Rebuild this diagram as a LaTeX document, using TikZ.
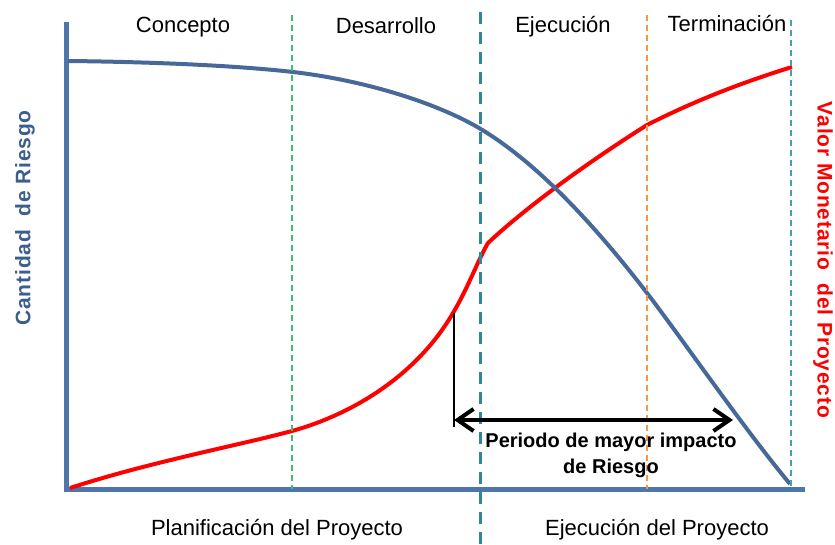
\documentclass[tikz,border=0pt]{standalone}
\usepackage{fontspec}
\setmainfont{Liberation Sans}
\usetikzlibrary{arrows.meta}
\definecolor{axisblue}{HTML}{4F76AA}
\definecolor{riskblue}{HTML}{46699A}
\definecolor{labelblue}{HTML}{3A5E8E}
\definecolor{phasegreen}{HTML}{3CC070}
\definecolor{phaseorange}{HTML}{F79646}
\definecolor{phaseteal}{HTML}{31859C}
\definecolor{endteal}{HTML}{4A9DB3}
\begin{document}
\begin{tikzpicture}[x=1pt,y=-1pt,
  phase/.style={font=\fontsize{22}{26}\selectfont,anchor=base},
  sidelabel/.style={font=\fontsize{21}{26}\selectfont\bfseries\addfontfeature{LetterSpace=4}},
  divider/.style={line width=1.2pt,dash pattern=on 6pt off 4pt},
  barb/.tip={Straight Barb[length=16pt,width=22pt]}]
\useasboundingbox (0,0) rectangle (835,545);

\coordinate (ytop) at (66,22);
\coordinate (orig) at (66,489);
\coordinate (xend) at (805,489);
\draw[axisblue,line width=5pt] (ytop) -- (orig) -- (xend);

\draw[red,line width=4pt] (70,488) .. controls (150,462) and (240,445) .. (292,431)
  .. controls (360,412) and (420,370) .. (453,313)
  .. controls (468,288) and (478,260) .. (488,243)
  .. controls (508,224) and (560,180) .. (647,125)
  .. controls (700,98) and (750,80) .. (792,67);
\draw[riskblue,line width=4pt] (68,61) .. controls (160,62) and (240,66) .. (293,72)
  .. controls (370,81) and (440,105) .. (479,128)
  .. controls (540,164) and (600,232) .. (647,293)
  .. controls (680,336) and (745,430) .. (790,484);

\draw[phasegreen,divider] (292,15) -- (292,489);
\draw[phaseteal,line width=3pt,dash pattern=on 12pt off 8pt] (480,12) -- (480,545);
\draw[phaseorange,divider] (647,15) -- (647,489);
\draw[endteal,divider] (791,20) -- (791,489);

\coordinate (rise) at (454,313);
\coordinate (risefoot) at (454,427);
\coordinate (arrL) at (454,420);
\coordinate (arrR) at (733,420);
\draw[line width=1.2pt] (rise) -- (risefoot);
\draw[line width=4pt,barb-barb] (arrL) -- (arrR);

\node[phase] (concepto) at (183,33) {Concepto};
\node[phase] (desarrollo) at (386,34) {Desarrollo};
\node[phase] (ejecucion) at (563,33) {Ejecución};
\node[phase] (terminacion) at (727,32) {Terminación};
\node[phase] (planif) at (277,535) {Planificación del Proyecto};
\node[phase] (ejecproy) at (657,535) {Ejecución del Proyecto};

\node[sidelabel,labelblue,rotate=90] (cantidad) at (25,218) {Cantidad\ \ de Riesgo};
\node[sidelabel,red,rotate=-90] (valor) at (823,260) {Valor Monetario\ \ del Proyecto};
\node[font=\fontsize{20}{26}\selectfont\bfseries,align=center] (periodo) at (611,455) {Periodo de mayor impacto\\de Riesgo};
\end{tikzpicture}
\end{document}
